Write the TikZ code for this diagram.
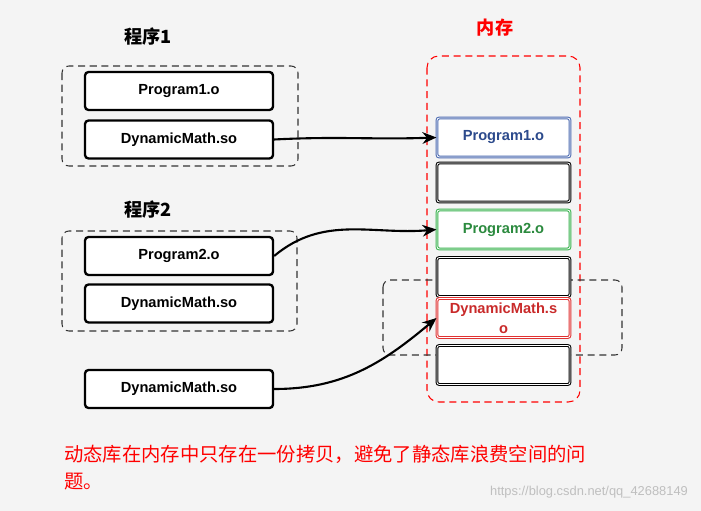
\documentclass[tikz,border=0pt]{standalone}
\usepackage{fontspec}
\setmainfont{Liberation Sans}
\newfontfamily\cjk{Noto Sans CJK SC}
\usepackage{tikz}
\usetikzlibrary{arrows.meta}
\definecolor{bg}{HTML}{F4F4F4}
\definecolor{memblue}{HTML}{4A69B0}
\definecolor{memgreen}{HTML}{37B24D}
\definecolor{memred}{HTML}{E03131}
\definecolor{txtblue}{HTML}{2C4A8C}
\definecolor{txtgreen}{HTML}{2B8A3E}
\definecolor{txtred}{HTML}{C92A2A}

\tikzset{
  box/.style={draw, line width=2pt, rounded corners=3pt, fill=white,
    minimum width=5.64cm, minimum height=1.14cm,
    font=\bfseries\fontsize{12.5}{14}\selectfont},
  membox/.style={draw, double=white, double distance=0.7pt, line width=0.9pt,
    rounded corners=2pt, fill=white, minimum width=3.99cm, minimum height=1.17cm,
    align=center, font=\bfseries\fontsize{12.5}{17}\selectfont},
  group/.style={draw=black!80, dash pattern=on 6pt off 4pt, line width=0.9pt,
    rounded corners=6pt},
  link/.style={-{Stealth[length=12pt,width=10pt]}, line width=1.8pt},
  title/.style={font=\cjk\bfseries\fontsize{15.5}{17}\selectfont},
}

\begin{document}
\begin{tikzpicture}[x=0.03cm,y=-0.03cm]
\fill[bg] (0,0) rectangle (701,511);

% program 1
\node[title] (T1) at (148,37) {程序1};
\draw[group] (62,66) rectangle (298,166);
\node[box] (P1) at (179,91) {Program1.o};
\node[box] (DM1) at (179,139.5) {DynamicMath.so};

% program 2
\node[title] (T2) at (148,210) {程序2};
\draw[group] (62,231) rectangle (297,331);
\node[box] (P2) at (179,256) {Program2.o};
\node[box] (DM2) at (179,303.5) {DynamicMath.so};

\node[box] (DM3) at (179,389) {DynamicMath.so};

% memory
\node[title, text=red] (TM) at (495,28) {内存};
\draw[red, dash pattern=on 6pt off 4pt, line width=0.9pt, rounded corners=10pt]
  (427,56) rectangle (580,402);
\draw[group] (383,280) rectangle (622,355);
\node[membox, draw=memblue, text=txtblue] (P1m) at (503.5,137.5) {Program1.o};
\node[membox, draw=black] (E1) at (503.5,182.5) {};
\node[membox, draw=memgreen, text=txtgreen] (P2m) at (503.5,229.5) {Program2.o};
\node[membox, draw=black] (E2) at (503.5,277) {};
\node[membox, draw=memred, text=txtred, inner sep=1pt] (DMm) at (503.5,318) {DynamicMath.s\\o};
\node[membox, draw=black] (E3) at (503.5,365) {};

\draw[link] (DM1.east) to[out=3,in=182] (P1m.west);
\draw[link] (P2.east) to[out=40,in=185] (P2m.west);
\draw[link] (DM3.east) to[out=0,in=220] (DMm.west);

% note
\node[font=\cjk\fontsize{16.5}{23}\selectfont, text=red, align=left, anchor=north west, inner sep=0pt]
  (note) at (64,445) {动态库在内存中只存在一份拷贝，避免了静态库浪费空间的问\\题。};
\node[font=\fontsize{11}{13}\selectfont, text=black!25, anchor=east] (wm) at (692,492)
  {https://blog.csdn.net/qq\_42688149};
\end{tikzpicture}
\end{document}
